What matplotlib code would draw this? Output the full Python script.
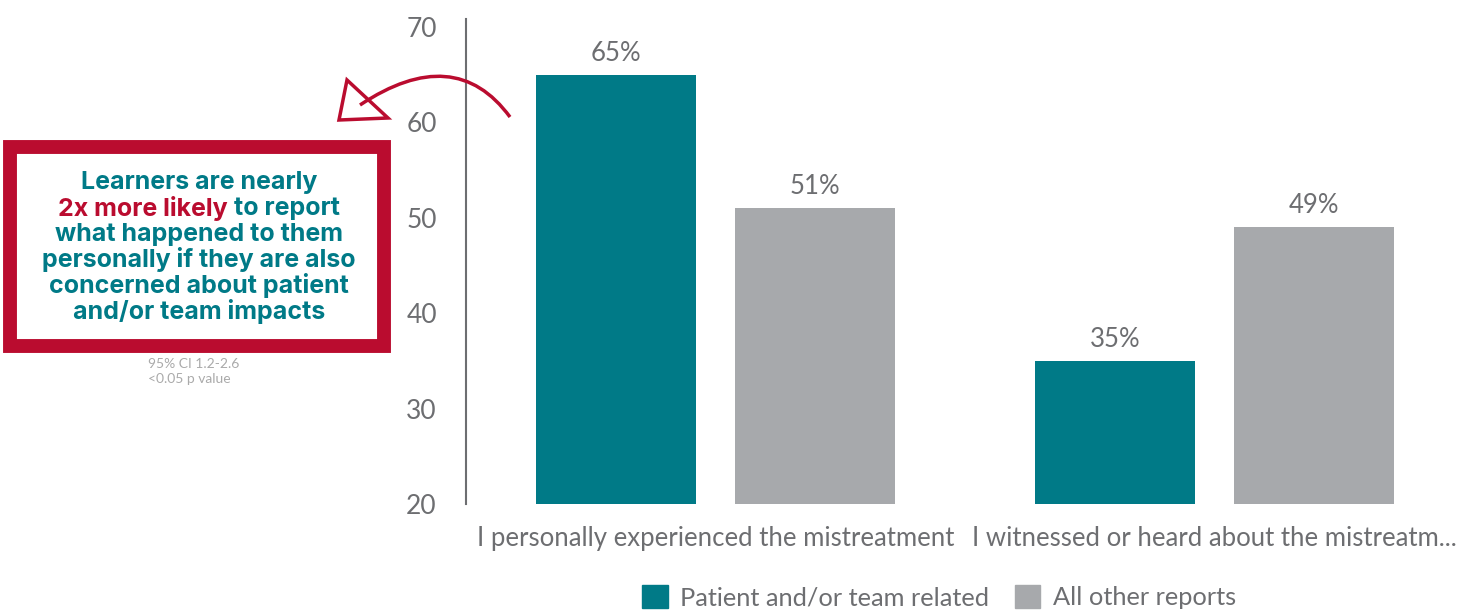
import numpy as np
import matplotlib.pyplot as plt
from matplotlib.patches import Patch, Rectangle, Polygon
from matplotlib.path import Path
from matplotlib.patches import PathPatch

plt.rcParams["font.family"] = ["Lato", "DejaVu Sans"]

categories = ["I personally experienced the mistreatment",
              "I witnessed or heard about the mistreatm..."]
series_names = ["Patient and/or team related", "All other reports"]
patient_vals = [65, 35]
other_vals = [51, 49]
yticks = [20, 30, 40, 50, 60, 70]

teal = "#007A87"
grey = "#A7A9AC"
red = "#BA0C2F"
txt = "#6D6E71"

W, H = 1473, 611
fig = plt.figure(figsize=(W / 100, H / 100), dpi=100)
ax = fig.add_axes([466 / W, 1 - 504 / H, 998 / W, 477 / H])

x = np.arange(len(categories))
bw = 0.32
b1 = ax.bar(x - 0.2, patient_vals, bw, color=teal, label=series_names[0])
b2 = ax.bar(x + 0.2, other_vals, bw, color=grey, label=series_names[1])
for bars, vals in ((b1, patient_vals), (b2, other_vals)):
    ax.bar_label(bars, labels=[f"{v}%" for v in vals], padding=6.5,
                 fontsize=18.5, color=txt)

ax.set_ylim(20, 70)
ax.set_xlim(-0.5, 1.5)
ax.set_yticks(yticks)
ax.set_xticks(x)
ax.set_xticklabels(categories, fontsize=18.5, color=txt)
ax.tick_params(axis="y", length=0, pad=21, labelsize=19, labelcolor=txt)
ax.tick_params(axis="x", length=0, pad=15.5)
for s in ["top", "right", "bottom"]:
    ax.spines[s].set_visible(False)
ax.spines["left"].set_color("#6D6E71")
ax.spines["left"].set_linewidth(1.5)
ax.spines["left"].set_bounds(20, 70.8)

fig.legend(handles=[Patch(color=teal), Patch(color=grey)], labels=series_names,
           loc="center", bbox_to_anchor=(939 / W, 1 - 597 / H), ncol=2,
           frameon=False, fontsize=18.3, handlelength=1.0, handleheight=1.0,
           handletextpad=0.5, columnspacing=1.0, labelcolor=txt,
           borderpad=0)

# callout box
def fx(px):
    return px / W

def fy(py):
    return 1 - py / H

fig.patches.append(Rectangle((fx(10), fy(346)), fx(374), 199 / H,
                             transform=fig.transFigure, fill=False,
                             edgecolor=red, linewidth=10))

box_font = dict(family=["Inter", "DejaVu Sans"], weight="bold", fontsize=18,
                ha="center", va="center")
lines = ["Learners are nearly", None, "what happened to them",
         "personally if they are also", "concerned about patient",
         "and/or team impacts"]
cx = fx(199)
for i, ln in enumerate(lines):
    yy = fy(182 + 26 * i)
    if ln is not None:
        fig.text(cx, yy, ln, color=teal, **box_font)

# mixed-colour second line
yy = fy(208)
probe = fig.text(cx, yy, "2x more likely to report", alpha=0, **box_font)
r = fig.canvas.get_renderer()
ext = probe.get_window_extent(r)
f2 = dict(box_font)
f2["ha"] = "left"
fig.text(ext.x0 / W, yy, "2x more likely", color=red, **f2)
f2["ha"] = "right"
fig.text(ext.x1 / W, yy, "to report", color=teal, **f2)

fig.text(fx(148), fy(364), "95% CI 1.2-2.6", fontsize=10, color="#AAAAAA",
         va="center", ha="left")
fig.text(fx(148), fy(379), "<0.05 p value", fontsize=10, color="#AAAAAA",
         va="center", ha="left")

# hand-drawn style arrow
verts = [(fx(510), fy(117)), (fx(455), fy(42)), (fx(360), fy(105))]
curve = Path(verts, [Path.MOVETO, Path.CURVE3, Path.CURVE3])
fig.patches.append(PathPatch(curve, transform=fig.transFigure, fill=False,
                             edgecolor=red, linewidth=2.5))
tri = [(fx(347), fy(80)), (fx(339), fy(120)), (fx(388), fy(118))]
fig.patches.append(Polygon(tri, closed=True, transform=fig.transFigure,
                           fill=False, edgecolor=red, linewidth=2.5))

fig.savefig("out.png", dpi=100)
